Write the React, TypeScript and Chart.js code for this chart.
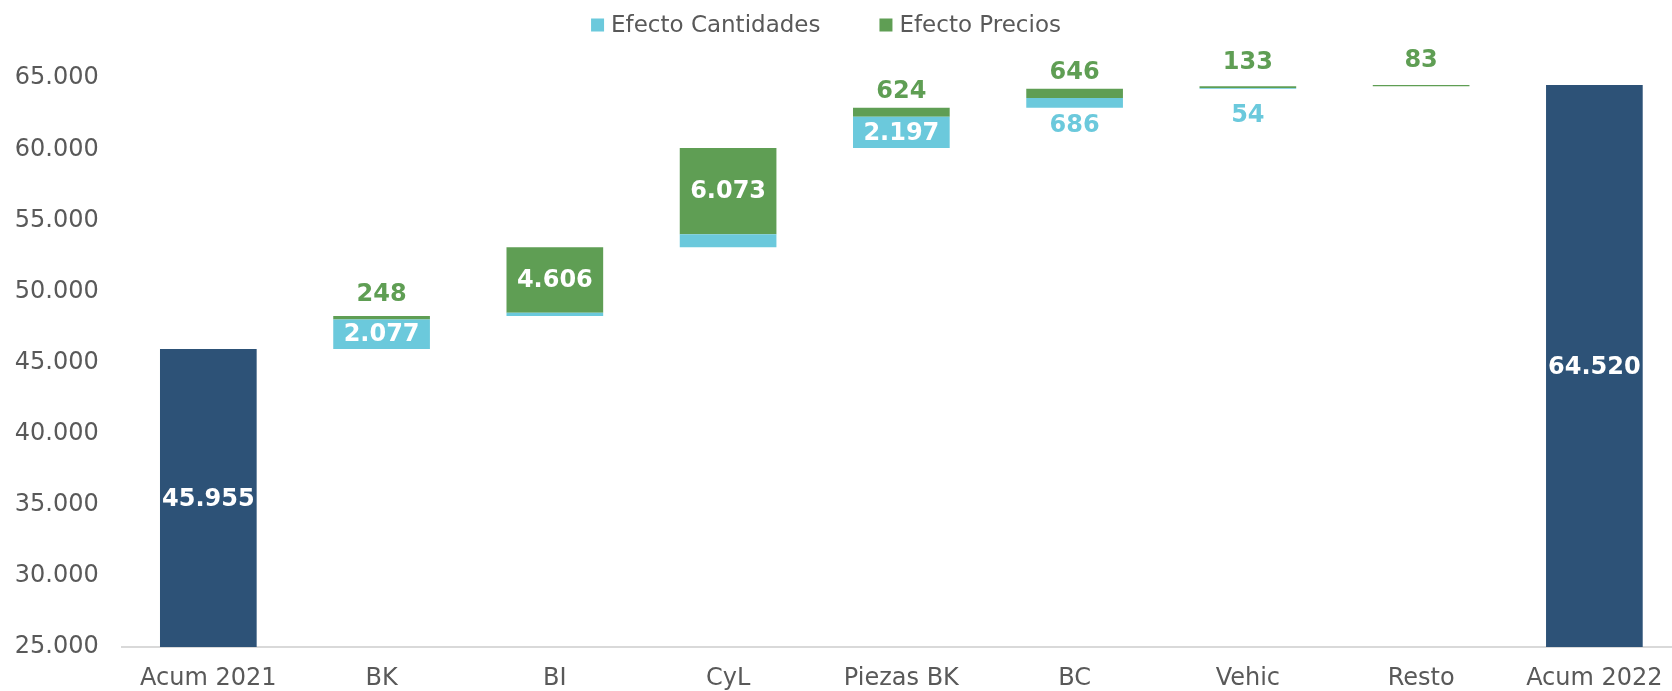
import React, { useEffect, useRef } from "react";
import { Chart, registerables } from "chart.js";

Chart.register(...registerables);

// ---------- data ----------
const categories = ["Acum 2021", "BK", "BI", "CyL", "Piezas BK", "BC", "Vehic", "Resto", "Acum 2022"];
const startTotal = 45955;
const endTotal = 64520;
const qtyEffect: (number | null)[] = [null, 2077, 230, 908, 2197, 686, 54, 0, null];
const priceEffect: (number | null)[] = [null, 248, 4606, 6073, 624, 646, 133, 83, null];
const hiddenQtyLabels = ["BI", "CyL", "Resto"];
const seriesNames = ["Efecto Cantidades", "Efecto Precios"];
const yMin = 25000;
const yMax = 65000;
const yStep = 5000;

// ---------- style ----------
const FONT = '"DejaVu Sans", Verdana, sans-serif';
const TEXT = "#595959";
const DARK = "#2D5277";
const QTY = "#6BC9DC";
const PRICE = "#5F9E54";

const fmt = (v: number) => String(Math.round(v)).replace(/\B(?=(\d{3})+(?!\d))/g, ".");

// build floating ranges
const qtyRanges: ([number, number] | null)[] = [];
const priceRanges: ([number, number] | null)[] = [];
const totalRanges: ([number, number] | null)[] = [];
{
  let running = startTotal;
  categories.forEach((_, i) => {
    const q = qtyEffect[i];
    const p = priceEffect[i];
    if (i === 0) {
      totalRanges.push([0, startTotal]);
      qtyRanges.push(null);
      priceRanges.push(null);
    } else if (i === categories.length - 1) {
      totalRanges.push([0, endTotal]);
      qtyRanges.push(null);
      priceRanges.push(null);
    } else {
      totalRanges.push(null);
      const q0 = running;
      running += q ?? 0;
      qtyRanges.push([q0, running]);
      const p0 = running;
      running += p ?? 0;
      priceRanges.push([p0, running]);
    }
  });
}

const labelPlugin = {
  id: "wfLabels",
  afterDatasetsDraw(chart: any) {
    const ctx = chart.ctx;
    const area = chart.chartArea;
    ctx.save();
    ctx.font = `bold 24px ${FONT}`;
    ctx.textAlign = "center";
    ctx.textBaseline = "middle";
    chart.data.datasets.forEach((ds: any, di: number) => {
      const meta = chart.getDatasetMeta(di);
      meta.data.forEach((el: any, i: number) => {
        const raw = ds.data[i];
        if (!raw) return;
        const value = raw[1] - raw[0];
        if (!value) return;
        const top = Math.min(el.y, el.base);
        const bottom = Math.min(Math.max(el.y, el.base), area.bottom);
        const h = bottom - top;
        if (ds.kind === "total") {
          ctx.fillStyle = "#FFFFFF";
          ctx.fillText(fmt(value), el.x, (top + bottom) / 2 + 2);
        } else if (ds.kind === "qty") {
          if (hiddenQtyLabels.includes(categories[i])) return;
          if (h >= 20) {
            ctx.fillStyle = "#FFFFFF";
            ctx.fillText(fmt(value), el.x, (top + bottom) / 2 + 1);
          } else {
            ctx.fillStyle = QTY;
            ctx.fillText(fmt(value), el.x, top + 28);
          }
        } else if (ds.kind === "price") {
          if (h >= 20) {
            ctx.fillStyle = "#FFFFFF";
            ctx.fillText(fmt(value), el.x, (top + bottom) / 2 + 1);
          } else {
            ctx.fillStyle = PRICE;
            ctx.fillText(fmt(value), el.x, bottom - 25);
          }
        }
      });
    });
    ctx.restore();
  },
};

const legendPlugin = {
  id: "wfLegend",
  afterDraw(chart: any) {
    const ctx = chart.ctx;
    ctx.save();
    ctx.font = `23px ${FONT}`;
    ctx.textBaseline = "middle";
    ctx.textAlign = "left";
    const box = 13;
    const gap = 7;
    const spacing = 59;
    const colors = [QTY, PRICE];
    const widths = seriesNames.map((n) => ctx.measureText(n).width);
    const total = widths.reduce((a, w) => a + box + gap + w, 0) + spacing * (seriesNames.length - 1);
    let x = 826 - total / 2;
    const cy = 25;
    seriesNames.forEach((n, i) => {
      ctx.fillStyle = colors[i];
      ctx.fillRect(x, cy - box / 2, box, box);
      x += box + gap;
      ctx.fillStyle = TEXT;
      ctx.fillText(n, x, cy + 1);
      x += widths[i] + spacing;
    });
    ctx.restore();
  },
};

export default function App() {
  const ref = useRef<HTMLCanvasElement | null>(null);
  useEffect(() => {
    if (!ref.current) return;
    const common = { grouped: false, barPercentage: 0.558, categoryPercentage: 1, borderWidth: 0 };
    const chart = new Chart(ref.current, {
      type: "bar",
      data: {
        labels: categories,
        datasets: [
          { ...common, label: "Total", kind: "total", data: totalRanges, backgroundColor: DARK } as any,
          { ...common, label: seriesNames[0], kind: "qty", data: qtyRanges, backgroundColor: QTY } as any,
          { ...common, label: seriesNames[1], kind: "price", data: priceRanges, backgroundColor: PRICE } as any,
        ],
      },
      options: {
        responsive: false,
        animation: false,
        devicePixelRatio: 1,
        layout: { padding: { top: 78.2, left: 0, right: 0, bottom: 0 } },
        plugins: {
          legend: { display: false },
          tooltip: { enabled: false },
        },
        scales: {
          x: {
            grid: { display: false, drawTicks: false },
            border: { display: true, color: "#D9D9D9", width: 2 },
            ticks: { color: TEXT, font: { family: FONT, size: 24 }, padding: 17, maxRotation: 0, autoSkip: false },
            afterFit: (s: any) => {
              s.height = 44;
            },
          },
          y: {
            min: yMin,
            max: yMax,
            grid: { display: false, drawTicks: false },
            border: { display: false },
            ticks: {
              stepSize: yStep,
              color: TEXT,
              font: { family: FONT, size: 24 },
              padding: 23,
              callback: (v: any) => fmt(Number(v)),
            },
            afterFit: (s: any) => {
              s.width = 121.7;
            },
          },
        },
      } as any,
      plugins: [labelPlugin, legendPlugin],
    });
    return () => chart.destroy();
  }, []);
  return (
    <div style={{ position: "fixed", left: 0, top: 0, width: 1672, height: 691, overflow: "hidden", background: "#fff" }}>
      <canvas ref={ref} width={1681} height={691} style={{ width: 1681, height: 691, display: "block" }} />
    </div>
  );
}
